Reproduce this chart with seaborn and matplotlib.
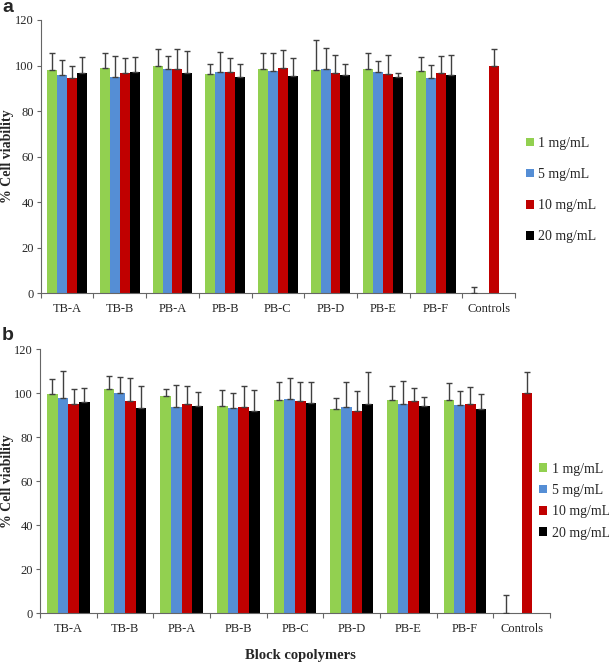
import numpy as np
import pandas as pd
import matplotlib
matplotlib.use("Agg")
import matplotlib.pyplot as plt
from matplotlib.patches import Patch
from matplotlib.container import BarContainer
import seaborn as sns

nan = np.nan
categories = ['TB-A', 'TB-B', 'PB-A', 'PB-B', 'PB-C', 'PB-D', 'PB-E', 'PB-F', 'Controls']
concentrations = ['1 mg/mL', '5 mg/mL', '10 mg/mL', '20 mg/mL']
colors = ['#92D050', '#558ED5', '#C00000', '#000000']

# Panel a
a_1 = [98.1, 98.8, 99.8, 96.2, 98.4, 98.1, 98.4, 97.5, 0.0]
a_1_err = [7.5, 6.5, 7.5, 4.7, 6.9, 13.0, 6.9, 6.4, 2.9]
a_5 = [95.9, 95.0, 98.7, 97.2, 97.6, 98.4, 97.1, 94.7, nan]
a_5_err = [6.6, 9.1, 5.4, 8.8, 7.7, 9.4, 4.9, 5.6, nan]
a_10 = [94.4, 96.6, 98.5, 97.0, 98.8, 96.9, 96.5, 96.8, 100.0]
a_10_err = [5.4, 6.7, 8.8, 6.3, 8.2, 7.8, 8.2, 7.2, 7.3]
a_20 = [96.6, 97.0, 96.9, 95.0, 95.6, 95.9, 95.0, 95.9, nan]
a_20_err = [7.2, 6.8, 9.4, 5.8, 7.5, 5.0, 1.9, 8.8, nan]

# Panel b
b_1 = [99.8, 101.8, 98.6, 94.2, 96.8, 92.9, 96.8, 97.1, 0.0]
b_1_err = [6.8, 6.2, 3.2, 7.2, 8.5, 5.0, 6.7, 7.6, 8.2]
b_5 = [97.9, 100.1, 93.9, 93.3, 97.6, 93.6, 95.0, 94.8, nan]
b_5_err = [12.4, 7.2, 9.9, 7.0, 9.4, 11.7, 10.7, 6.2, nan]
b_10 = [95.0, 96.6, 95.3, 93.9, 96.5, 92.0, 96.5, 95.0, 100.3]
b_10_err = [7.1, 10.4, 8.2, 9.3, 8.8, 9.0, 6.1, 8.0, 9.2]
b_20 = [95.9, 93.2, 94.4, 92.0, 95.6, 95.0, 94.4, 93.0, nan]
b_20_err = [6.5, 10.3, 6.2, 9.4, 9.7, 14.5, 3.9, 6.5, nan]

sns.set_style('ticks')
plt.rcParams['font.family'] = ['Liberation Serif', 'DejaVu Serif']

W, H = 609, 663
fig = plt.figure(figsize=(W / 100, H / 100), dpi=100)

AXCOL = '#666666'
ERRCOL = '#404040'


def make_df(vals):
    rows = []
    for conc, series in zip(concentrations, vals):
        for cat, v in zip(categories, series):
            rows.append({'cat': cat, 'conc': conc, 'val': v})
    return pd.DataFrame(rows)


def draw_panel(ax, vals, errs, ylabel_x):
    df = make_df(vals)
    sns.barplot(data=df, x='cat', y='val', hue='conc', order=categories,
                hue_order=concentrations, palette=colors, saturation=1,
                width=0.75, errorbar=None, linewidth=0, legend=False, ax=ax)
    bar_conts = [c for c in ax.containers if isinstance(c, BarContainer)]
    for i, cont in enumerate(bar_conts):
        for bar in list(cont.patches):
            if bar is None:
                continue
            cx = bar.get_x() + bar.get_width() / 2
            ci = int(round(cx))
            h = bar.get_height()
            e = errs[i][ci]
            if np.isnan(h) or np.isnan(e):
                continue
            ax.errorbar(cx, h, yerr=[[0], [e]], fmt='none', ecolor=ERRCOL,
                        elinewidth=1.0, capsize=2.2, capthick=1.0, zorder=3)
    ax.set_xlim(-0.5, len(categories) - 0.5)
    ax.set_ylim(0, 120)
    ax.set_yticks(np.arange(0, 121, 20))
    ax.set_xticks(range(len(categories)))
    ax.set_xticklabels(categories, fontsize=9)
    ax.set_xticks(np.arange(-0.5, len(categories), 1), minor=True)
    ax.tick_params(axis='x', which='major', length=0, pad=7)
    ax.tick_params(axis='x', which='minor', length=3.5, color=AXCOL, width=0.8)
    ax.tick_params(axis='y', length=3, color=AXCOL, width=0.8, labelsize=9, pad=2)
    for s in ['top', 'right']:
        ax.spines[s].set_visible(False)
    for s in ['left', 'bottom']:
        ax.spines[s].set_color(AXCOL)
        ax.spines[s].set_linewidth(0.8)
    ax.set_xlabel('')
    ax.set_ylabel('% Cell viability', fontsize=10, fontweight='bold')
    ax.yaxis.set_label_coords(ylabel_x, 0.5)


ax_a = fig.add_axes([40.7 / W, 1 - 293.3 / H, (515 - 40.7) / W, (293.3 - 20) / H])
draw_panel(ax_a, [a_1, a_5, a_10, a_20], [a_1_err, a_5_err, a_10_err, a_20_err],
           (14 - 40.7) / (515 - 40.7))

ax_b = fig.add_axes([40.0 / W, 1 - 613.3 / H, (550 - 40) / W, (613.3 - 349.3) / H])
draw_panel(ax_b, [b_1, b_5, b_10, b_20], [b_1_err, b_5_err, b_10_err, b_20_err],
           (14 - 40) / (550 - 40))

handles = [Patch(facecolor=c, edgecolor='none') for c in colors]
fig.legend(handles, concentrations, loc='center left', frameon=False,
           bbox_to_anchor=(526 / W, 1 - 190 / H), fontsize=10,
           handlelength=0.6, handleheight=0.6, handletextpad=0.3,
           labelspacing=1.3, borderaxespad=0, borderpad=0)
fig.legend(handles, concentrations, loc='center left', frameon=False,
           bbox_to_anchor=(539 / W, 1 - 501 / H), fontsize=10,
           handlelength=0.6, handleheight=0.6, handletextpad=0.3,
           labelspacing=0.6, borderaxespad=0, borderpad=0)

fig.text(300 / W, 1 - 655 / H, 'Block copolymers', ha='center', va='center',
         fontsize=10.5, fontweight='bold')
fig.text(2 / W, 1 - 8 / H, 'a', ha='left', va='center', fontsize=14,
         fontweight='bold', family=['Liberation Sans', 'DejaVu Sans'])
fig.text(2 / W, 1 - 335 / H, 'b', ha='left', va='center', fontsize=14,
         fontweight='bold', family=['Liberation Sans', 'DejaVu Sans'])

fig.savefig('out.png', dpi=100)
